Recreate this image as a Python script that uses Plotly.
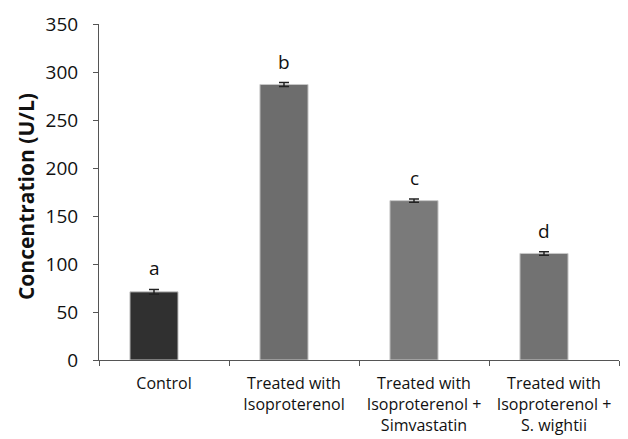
import plotly.graph_objects as go

categories = ["Control", "Treated with<br>Isoproterenol", "Treated with<br>Isoproterenol +<br>Simvastatin", "Treated with<br>Isoproterenol +<br>S. wightii"]
values = [71, 287, 166, 111]
errors = [2.5, 2, 1.8, 1.8]
letters = ["a", "b", "c", "d"]
colors = ["#303030", "#6d6d6d", "#7a7a7a", "#727272"]
y_title = "Concentration (U/L)"

FONT = "Open Sans, sans-serif"

fig = go.Figure()
fig.add_trace(go.Bar(
    x=categories, y=values,
    marker=dict(color=colors, line=dict(color="#c8c8c8", width=1)),
    error_y=dict(type="data", array=errors, color="#222222", thickness=1.5, width=5),
    width=0.37, offset=-0.262,
))
annotations = [dict(
    text="<b>" + y_title + "</b>", textangle=-90,
    xref="paper", yref="paper", x=-0.1404, y=0.488,
    xanchor="center", yanchor="middle", showarrow=False,
    font=dict(family=FONT, size=21, color="#111111"),
)]
for cat, val, err, let in zip(categories, values, errors, letters):
    annotations.append(dict(
        text=let, x=cat, y=val + err, xref="x", yref="y",
        xanchor="center", yanchor="bottom", showarrow=False,
        xshift=-10, yshift=6,
        font=dict(family=FONT, size=19, color="#111111"),
    ))
fig.update_layout(
    width=628, height=439,
    margin=dict(l=91, r=17, t=16, b=87),
    paper_bgcolor="white", plot_bgcolor="white",
    showlegend=False,
    annotations=annotations,
)
fig.update_yaxes(
    range=[0, 350], dtick=50, showgrid=False, zeroline=False, automargin=False,
    showline=True, linecolor="#555555", linewidth=1,
    ticks="outside", ticklen=5, tickcolor="#555555", ticklabelstandoff=11,
    tickfont=dict(family=FONT, size=19, color="#111111"),
)
fig.update_xaxes(
    showline=True, linecolor="#555555", linewidth=1, automargin=False,
    ticks="outside", ticklen=5, tickcolor="#555555", tickson="boundaries",
    ticklabelstandoff=9,
    tickfont=dict(family=FONT, size=16, color="#111111"),
)
fig.write_html("out.html")
